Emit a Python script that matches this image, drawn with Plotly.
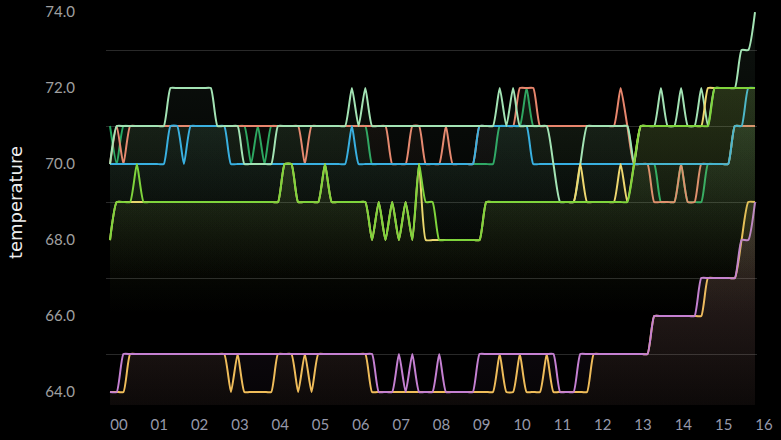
import pandas as pd
import plotly.graph_objects as go

# ---- data (10-minute samples, 00:00 .. 16:00) ----
times = pd.date_range("2024-01-01 00:00", periods=97, freq="10min")

pale_green = [70,71,71,71,71,71,71,71,71,72,72,72,
              72,72,72,72,71,71,71,71,70,70,70,70,
              70,71,71,71,71,71,71,71,71,71,71,71,
              72,71,72,71,71,71,71,71,71,71,71,71,
              71,71,71,71,71,71,71,71,71,71,72,71,
              72,71,71,71,71,71,70,69,69,69,70,71,
              71,71,71,71,71,71,70,71,71,71,72,71,
              71,72,71,71,72,71,72,72,72,72,73,73,
              74]

salmon = [70,71,70,71,71,71,71,71,71,71,71,71,
          71,71,71,71,71,71,71,71,71,71,71,71,
          71,71,71,71,71,70,71,71,71,71,71,71,
          71,71,71,71,71,71,70,70,70,71,71,70,
          70,70,71,70,70,70,70,71,71,71,71,71,
          71,72,72,72,71,71,71,71,71,71,71,71,
          71,71,71,71,72,71,70,70,70,69,69,69,
          69,70,69,69,70,70,70,70,70,71,71,71,
          71]

blue = [70,70,70,70,70,70,70,70,70,71,71,70,
        71,71,71,71,71,71,70,70,70,70,70,70,
        70,70,70,70,70,70,70,70,70,70,70,70,
        71,70,70,70,70,70,70,70,70,70,70,70,
        70,70,70,70,70,70,70,71,71,71,71,71,
        71,71,71,70,70,70,70,70,70,70,70,70,
        70,70,70,70,70,70,70,70,70,70,70,70,
        70,70,70,70,70,70,70,70,70,71,71,72,
        72]

green = [71,70,71,71,71,71,71,71,71,71,71,71,
         71,71,71,71,71,71,71,71,71,70,71,70,
         71,71,71,71,71,71,71,71,71,71,71,71,
         71,71,71,70,70,70,70,70,70,70,70,70,
         70,70,70,70,70,70,70,70,70,70,71,71,
         71,71,72,71,71,71,71,71,71,71,71,71,
         71,71,71,71,71,71,70,70,70,70,69,69,
         69,70,69,69,69,70,70,70,70,71,71,71,
         71]

lime = [68,69,69,69,70,69,69,69,69,69,69,69,
        69,69,69,69,69,69,69,69,69,69,69,69,
        69,69,70,70,69,69,69,69,70,69,69,69,
        69,69,69,68,69,68,69,68,69,68,70,69,
        69,68,68,68,68,68,68,68,69,69,69,69,
        69,69,69,69,69,69,69,69,69,69,69,69,
        69,69,69,69,69,69,70,71,71,71,71,71,
        71,71,71,71,71,71,72,72,72,72,72,72,
        72]

light_yellow = [68,69,69,69,69,69,69,69,69,69,69,69,
                69,69,69,69,69,69,69,69,69,69,69,69,
                69,69,70,70,69,69,69,69,70,69,69,69,
                69,69,69,68,69,68,69,68,69,68,70,68,
                68,68,68,68,68,68,68,68,69,69,69,69,
                69,69,69,69,69,69,69,69,69,69,70,69,
                69,69,69,69,70,69,70,71,71,71,71,71,
                71,71,71,71,71,72,72,72,72,72,72,72,
                72]

purple = [64,64,65,65,65,65,65,65,65,65,65,65,
          65,65,65,65,65,65,65,65,65,65,65,65,
          65,65,65,65,65,65,65,65,65,65,65,65,
          65,65,65,65,64,64,64,65,64,65,64,64,
          64,65,64,64,64,64,64,65,65,65,65,65,
          65,65,65,65,65,65,65,64,64,64,65,65,
          65,65,65,65,65,65,65,65,65,66,66,66,
          66,66,66,66,67,67,67,67,67,67,68,68,
          69]

yellow = [64,64,64,65,65,65,65,65,65,65,65,65,
          65,65,65,65,65,65,64,65,64,64,64,64,
          64,65,65,65,64,65,64,65,65,65,65,65,
          65,65,65,64,64,64,64,64,64,64,64,64,
          64,64,64,64,64,64,64,64,64,64,65,64,
          64,65,64,64,64,65,64,64,64,64,64,64,
          65,65,65,65,65,65,65,65,65,66,66,66,
          66,66,66,66,66,67,67,67,67,67,68,69,
          69]

y_tick_vals = [64, 66, 68, 70, 72, 74]
y_tick_text = ["64.0", "66.0", "68.0", "70.0", "72.0", "74.0"]
y_grid_vals = [65, 67, 69, 71, 73]

# drawing order: first = bottom
series = [
    (yellow, "#f1bf55", 0.13),
    (purple, "#c580d2", 0.13),
    (green, "#23a860", 0.12),
    (salmon, "#e8866d", 0.07),
    (blue, "#35aee2", 0.04),
    (pale_green, "#a3e3b4", 0.08),
    (light_yellow, "#efd870", 0.08),
    (lime, "#7fd43c", 0.11),
]


def rgba(hex_color, a):
    h = hex_color.lstrip("#")
    r, g, b = int(h[0:2], 16), int(h[2:4], 16), int(h[4:6], 16)
    return f"rgba({r},{g},{b},{a})"


fig = go.Figure()
for vals, col, alpha in series:
    lo, hi = min(vals), max(vals)
    fig.add_trace(go.Scatter(
        x=times, y=vals, mode="lines",
        line=dict(color=col, width=2, shape="spline", smoothing=0.5),
        fill="tozeroy",
        fillgradient=dict(
            type="vertical",
            colorscale=[[0, rgba(col, 0)], [1, rgba(col, alpha)]],
            start=lo - 2, stop=hi,
        ),
        hoverinfo="skip",
        showlegend=False,
    ))

t0 = times[0]
fig.update_layout(
    width=781, height=440,
    paper_bgcolor="#000000", plot_bgcolor="#000000",
    margin=dict(l=106, r=24, t=0, b=35, autoexpand=False),
    font=dict(family="Lato", color="#a0a0a0"),
    showlegend=False,
    xaxis=dict(
        type="date", automargin=False,
        range=[t0 - pd.Timedelta(minutes=5.95), t0 + pd.Timedelta(hours=16, minutes=2.98)],
        tick0=t0, dtick=3600000, tickformat="%H",
        showgrid=False, zeroline=False, showline=False, ticks="",
        tickfont=dict(size=15, color="#9698aa"),
        ticklabelshift=9, ticklabelstandoff=9,
        ticklabeloverflow="allow",
    ),
    yaxis=dict(
        automargin=False,
        range=[63.658, 74.316],
        tickmode="array", tickvals=y_tick_vals, ticktext=y_tick_text,
        showgrid=False, zeroline=False, showline=False, ticks="",
        tickfont=dict(size=15, color="#a0a0a0"),
        ticklabelstandoff=30,
        ticklabeloverflow="allow",
        minor=dict(tickmode="array", tickvals=y_grid_vals, showgrid=True,
                   gridcolor="rgba(255,255,255,0.16)", gridwidth=1, ticks=""),
        title=dict(text="temperature", standoff=18,
                   font=dict(family="DejaVu Sans", size=18, color="#eeeeee")),
    ),
)

fig.write_html(
    "out.html",
    config={"displayModeBar": False},
    post_script="document.body.style.margin='0';document.body.style.overflow='hidden';"
                "document.body.style.background='#000';",
)
